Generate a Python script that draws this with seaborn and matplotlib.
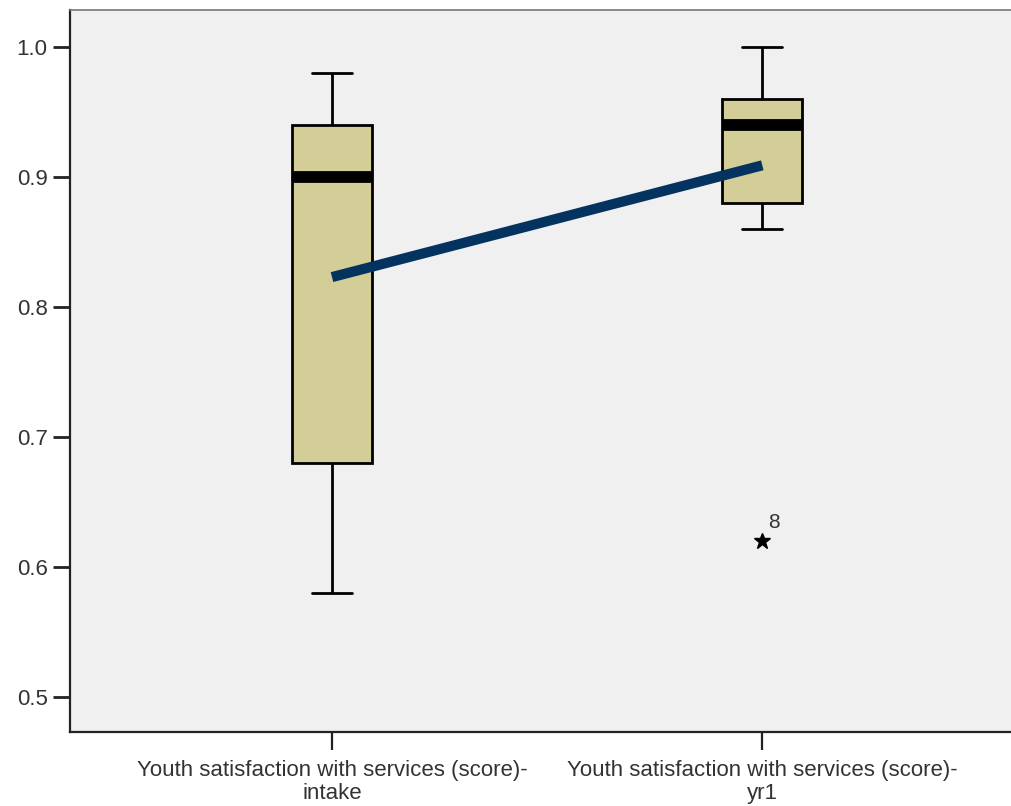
import pandas as pd
import seaborn as sns
import matplotlib.pyplot as plt

# categories and raw scores
labels = ['Youth satisfaction with services (score)-\nintake',
          'Youth satisfaction with services (score)-\nyr1']
intake = [0.58, 0.60, 0.68, 0.86, 0.90, 0.92, 0.94, 0.95, 0.98]
yr1 = [0.62, 0.86, 0.88, 0.92, 0.94, 0.95, 0.96, 0.98, 1.00]
means = [0.823, 0.909]
outlier_value = 0.62
outlier_id = '8'

df = pd.DataFrame({
    'group': [labels[0]] * len(intake) + [labels[1]] * len(yr1),
    'score': intake + yr1,
})

sns.set_style('white')
plt.rcParams['font.family'] = ['Liberation Sans', 'DejaVu Sans']

fig = plt.figure(figsize=(10.11, 8.06), dpi=100)
ax = fig.add_axes([0.0692, 0.0918, 0.944, 0.8958])
ax.set_facecolor('#F0F0F0')

sns.boxplot(data=df, x='group', y='score', order=labels, ax=ax,
            color='#D3CE98', saturation=1, width=0.186, linecolor='black',
            linewidth=2, whis=1.5,
            medianprops={'linewidth': 8.5, 'color': 'black', 'solid_capstyle': 'butt'},
            flierprops={'marker': '*', 'markersize': 12, 'markerfacecolor': 'black',
                        'markeredgecolor': 'black'})

sns.lineplot(x=[0, 1], y=means, ax=ax, color='#04335F', linewidth=7.3,
             solid_capstyle='butt')

ax.annotate(outlier_id, xy=(1, outlier_value), xytext=(4, 9),
            textcoords='offset points', fontsize=15, color='#333333')

ax.set_xlim(-0.609, 1.609)
ax.set_ylim(0.473, 1.0285)
ax.set_yticks([0.5, 0.6, 0.7, 0.8, 0.9, 1.0])
ax.set_yticklabels(['0.5', '0.6', '0.7', '0.8', '0.9', '1.0'])
ax.set_xlabel('')
ax.set_ylabel('')
ax.tick_params(axis='y', left=True, length=12, width=2, labelsize=16,
               colors='#222222', labelcolor='#333333', pad=4)
ax.tick_params(axis='x', bottom=True, length=13, width=1.6, labelsize=16,
               colors='#222222', labelcolor='#333333', pad=7)
for t in ax.get_xticklabels():
    t.set_linespacing(1.15)

ax.spines['left'].set_linewidth(1.6)
ax.spines['left'].set_color('#222222')
ax.spines['bottom'].set_linewidth(1.6)
ax.spines['bottom'].set_color('#222222')
ax.spines['top'].set_linewidth(1.2)
ax.spines['top'].set_color('#777777')
ax.spines['right'].set_visible(False)

fig.savefig('out.png', dpi=100)
